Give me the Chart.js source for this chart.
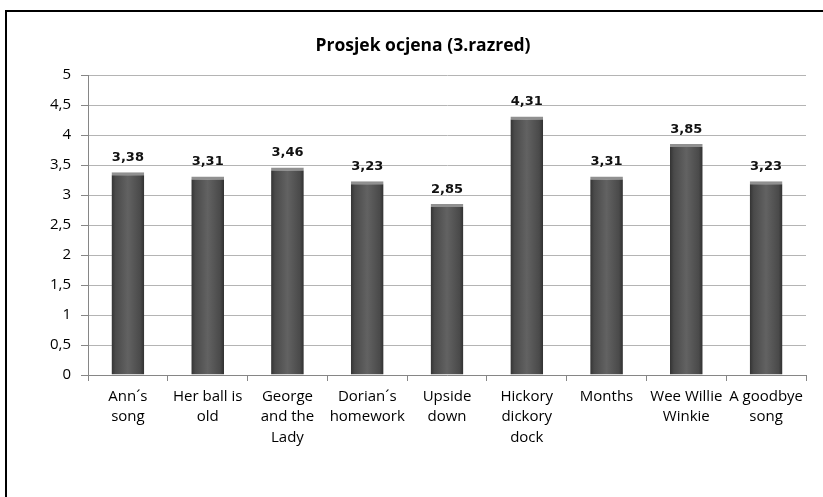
<!DOCTYPE html>
<html lang="hr">
<head>
  <meta charset="UTF-8" />
  <title>Prosjek ocjena (3.razred)</title>
  <script src="https://cdn.jsdelivr.net/npm/chart.js"></script>
  <style>
    html, body {
      margin: 0;
      padding: 0;
      background: #fff;
      overflow: hidden;
    }
    .frame {
      position: absolute;
      left: 5px;
      top: 10px;
      width: 860px;
      height: 520px;
      border: 2px solid #000;
    }
    #chart {
      position: absolute;
      left: 0;
      top: 0;
    }
  </style>
</head>
<body>
  <div class="frame"></div>
  <canvas id="chart" width="846" height="497"></canvas>

  <script>
    // chart data
    const categories = [
      ['Ann´s', 'song'],
      ['Her ball is', 'old'],
      ['George', 'and the', 'Lady'],
      ['Dorian´s', 'homework'],
      ['Upside', 'down'],
      ['Hickory', 'dickory', 'dock'],
      ['Months'],
      ['Wee Willie', 'Winkie'],
      ['A goodbye', 'song']
    ];
    const averages = [3.38, 3.31, 3.46, 3.23, 2.85, 4.31, 3.31, 3.85, 3.23];
    const yTicks = [0, 0.5, 1, 1.5, 2, 2.5, 3, 3.5, 4, 4.5, 5];

    const fmt = v => String(v).replace('.', ',');
    const BAR_PCT = 0.41;

    // horizontal shading so the bars look round like in Excel
    function barFill(ctx) {
      const chart = ctx.chart;
      const xs = chart.scales.x;
      if (!xs || ctx.dataIndex == null) return '#555';
      const cx = xs.getPixelForValue(ctx.dataIndex);
      const w = (xs.width / categories.length) * BAR_PCT;
      if (!isFinite(cx) || !isFinite(w) || w <= 0) return '#555';
      const g = chart.ctx.createLinearGradient(cx - w / 2, 0, cx + w / 2, 0);
      g.addColorStop(0, '#333');
      g.addColorStop(0.12, '#4a4a4a');
      g.addColorStop(0.5, '#626262');
      g.addColorStop(0.88, '#4a4a4a');
      g.addColorStop(1, '#303030');
      return g;
    }

    // value labels above the bars
    const valueLabels = {
      id: 'valueLabels',
      afterDatasetsDraw(chart) {
        const c = chart.ctx;
        const meta = chart.getDatasetMeta(0);
        c.save();
        c.font = 'bold 13px "DejaVu Sans"';
        c.fillStyle = '#111';
        c.textAlign = 'center';
        c.textBaseline = 'bottom';
        meta.data.forEach((bar, i) => {
          c.fillText(fmt(averages[i]), bar.x, bar.y - 8);
        });
        c.restore();
      }
    };

    new Chart(document.getElementById('chart'), {
      type: 'bar',
      data: {
        labels: categories,
        datasets: [{
          data: averages,
          backgroundColor: barFill,
          borderColor: '#909090',
          borderWidth: { top: 3, left: 0, right: 0, bottom: 0 },
          borderSkipped: 'bottom',
          barPercentage: BAR_PCT,
          categoryPercentage: 1
        }]
      },
      options: {
        responsive: false,
        animation: false,
        layout: { padding: { left: 40, right: 40, top: 0, bottom: 0 } },
        plugins: {
          legend: { display: false },
          tooltip: { enabled: false },
          title: {
            display: true,
            text: 'Prosjek ocjena (3.razred)',
            color: '#000',
            font: { family: 'Open Sans', size: 17.5, weight: 'bold', lineHeight: 1.2 },
            padding: { top: 36, bottom: 18 }
          }
        },
        scales: {
          x: {
            afterFit: s => { s.height = 122; },
            grid: {
              offset: true,
              drawOnChartArea: false,
              drawTicks: true,
              tickLength: 6,
              color: '#868686'
            },
            border: { color: '#868686', width: 1 },
            ticks: {
              color: '#000',
              maxRotation: 0,
              autoSkip: false,
              padding: 5,
              font: { family: 'Open Sans', size: 15, lineHeight: 1.38 }
            }
          },
          y: {
            min: 0,
            max: 5,
            afterFit: s => { s.width = 48; },
            afterBuildTicks: s => { s.ticks = yTicks.map(v => ({ value: v })); },
            grid: {
              color: '#b4b4b4',
              tickLength: 7,
              tickColor: '#868686'
            },
            border: { color: '#868686', width: 1 },
            ticks: {
              color: '#000',
              padding: 10,
              font: { family: 'Open Sans', size: 15 },
              callback: v => fmt(v)
            }
          }
        }
      },
      plugins: [valueLabels]
    });
  </script>
</body>
</html>
